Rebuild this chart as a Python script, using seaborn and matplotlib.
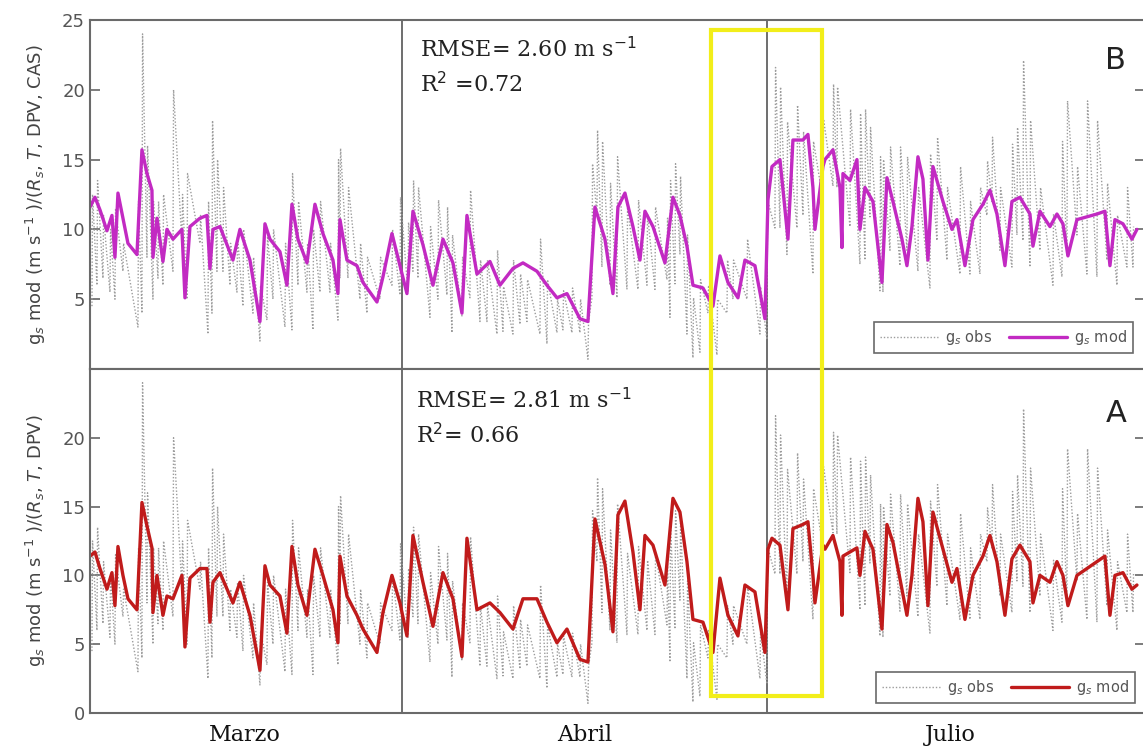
import matplotlib
matplotlib.use("Agg")
import matplotlib.pyplot as plt
import numpy as np
import pandas as pd
import seaborn as sns
from matplotlib.patches import Rectangle

# time axis in hours since start of the record
month_names = ["Marzo", "Abril", "Julio"]
month_centres = [310, 990, 1720]
month_breaks = [624, 1354]
t_end = 2110

# modelled gs (time, B = Rs,T,DPV,CAS ; A = Rs,T,DPV)
model_t = [0, 10, 20, 34, 44, 50, 56, 66, 76, 94, 104, 114, 124, 126, 134, 146, 154, 166, 184, 190,
           200, 220, 234, 240, 246, 260, 286, 300, 320, 340, 350, 360, 380, 394, 404, 416, 434, 450, 466, 486,
           496, 500, 514, 534, 546, 574, 586, 604, 620, 634, 646, 666, 686, 706, 726, 744, 754, 774, 800, 820,
           846, 866, 894, 914, 934, 954, 980, 996, 1010, 1030, 1046, 1056, 1070, 1086, 1100, 1110, 1126, 1150, 1166, 1180,
           1194, 1206, 1226, 1246, 1260, 1276, 1296, 1310, 1330, 1350, 1356, 1364, 1380, 1396, 1406, 1426, 1436, 1446, 1450, 1466,
           1470, 1486, 1500, 1504, 1506, 1520, 1534, 1540, 1550, 1566, 1584, 1594, 1606, 1624, 1634, 1644, 1656, 1666, 1676, 1686,
           1706, 1724, 1734, 1750, 1766, 1786, 1800, 1814, 1830, 1844, 1860, 1880, 1886, 1900, 1920, 1934, 1946, 1956, 1974, 1994,
           2014, 2030, 2040, 2050, 2066, 2084, 2094]
model_b = [11.6, 12.3, 11.4, 9.9, 11.0, 8.0, 12.6, 10.8, 9.0, 8.2, 15.7, 14.0, 12.8, 8.0, 10.8, 7.7, 10.0, 9.3, 10.0, 5.1,
           10.2, 10.8, 11.0, 7.2, 10.0, 10.2, 7.8, 10.0, 7.8, 3.4, 10.4, 9.3, 8.4, 6.0, 11.8, 9.3, 7.6, 11.8, 9.7, 7.8,
           5.4, 10.7, 7.8, 7.4, 6.2, 4.8, 6.6, 9.7, 7.4, 5.4, 11.3, 8.9, 6.0, 9.3, 7.6, 4.0, 11.0, 6.8, 7.7, 6.0,
           7.2, 7.6, 7.0, 6.0, 5.1, 5.4, 3.6, 3.4, 11.6, 9.3, 5.4, 11.6, 12.6, 10.2, 7.8, 11.3, 10.2, 7.6, 12.3, 11.0,
           8.8, 6.0, 5.8, 4.5, 8.1, 6.2, 5.1, 7.8, 7.4, 3.6, 12.1, 14.5, 15.0, 9.3, 16.4, 16.4, 16.8, 13.0, 10.0, 14.5,
           15.0, 15.7, 13.0, 8.7, 14.0, 13.5, 15.0, 10.0, 13.0, 12.0, 6.2, 13.7, 12.0, 9.3, 7.4, 10.2, 15.2, 13.6, 7.8, 14.5,
           12.0, 10.0, 10.7, 7.4, 10.7, 11.8, 12.8, 11.1, 7.4, 12.0, 12.3, 11.1, 8.8, 11.3, 10.2, 11.1, 10.4, 8.1, 10.7, 10.9,
           11.1, 11.3, 7.4, 10.7, 10.4, 9.3, 10.0]
model_a = [11.4, 11.7, 10.5, 9.0, 10.2, 7.8, 12.1, 10.0, 8.3, 7.5, 15.3, 13.6, 12.0, 7.3, 10.0, 7.1, 8.5, 8.3, 10.0, 4.8,
           9.8, 10.5, 10.5, 6.6, 9.5, 10.2, 8.0, 9.5, 7.1, 3.1, 10.7, 9.3, 8.5, 5.8, 12.1, 9.3, 7.1, 11.9, 10.0, 7.5,
           5.1, 11.4, 8.5, 7.1, 6.1, 4.4, 7.3, 10.0, 8.0, 5.6, 12.9, 9.5, 6.3, 10.2, 8.3, 4.1, 12.7, 7.5, 8.0, 7.3,
           6.1, 8.3, 8.3, 6.6, 5.1, 6.1, 3.9, 3.7, 14.1, 10.8, 5.9, 14.4, 15.4, 11.7, 7.5, 12.9, 12.2, 9.3, 15.6, 14.6,
           11.0, 6.8, 6.6, 4.4, 9.8, 7.1, 5.6, 9.3, 8.8, 4.4, 11.9, 12.7, 12.2, 7.5, 13.4, 13.7, 13.9, 10.0, 8.0, 12.2,
           11.9, 12.9, 11.0, 7.1, 11.4, 11.7, 12.0, 10.0, 13.2, 11.9, 6.1, 13.7, 12.4, 9.0, 7.1, 10.0, 15.6, 13.9, 7.8, 14.6,
           11.9, 9.5, 10.5, 6.8, 10.0, 11.4, 12.9, 11.0, 7.1, 11.2, 12.2, 11.0, 8.0, 10.0, 9.5, 11.0, 10.0, 7.8, 10.0, 10.5,
           11.0, 11.4, 7.1, 10.0, 10.2, 9.0, 9.3]

# observed gs: daily low / high of each burst
obs_t = [4, 14, 26, 40, 50, 66, 96, 104, 114, 126, 136, 146, 166, 184, 194, 220, 236, 244, 254, 266,
         280, 294, 306, 326, 340, 354, 366, 390, 404, 416, 434, 446, 460, 480, 496, 500, 516, 540, 554, 580,
         604, 620, 636, 646, 656, 680, 696, 714, 724, 744, 760, 780, 794, 814, 826, 846, 860, 874, 900, 914,
         934, 946, 964, 980, 996, 1004, 1014, 1024, 1040, 1054, 1074, 1096, 1114, 1130, 1154, 1160, 1170, 1180, 1194, 1206,
         1220, 1236, 1254, 1274, 1286, 1314, 1340, 1354, 1370, 1380, 1394, 1414, 1426, 1446, 1466, 1486, 1494, 1520, 1540, 1550,
         1560, 1580, 1586, 1600, 1620, 1634, 1656, 1680, 1694, 1714, 1740, 1760, 1780, 1794, 1804, 1820, 1844, 1854, 1866, 1880,
         1900, 1926, 1944, 1954, 1974, 1994, 2014, 2034, 2054, 2074, 2086]
obs_hi = [12.5, 13.5, 11.0, 10.0, 11.5, 9.0, 12.0, 24.0, 16.0, 12.0, 12.0, 12.5, 20.0, 12.5, 14.0, 11.0, 12.0, 17.8, 15.0, 13.0,
          9.0, 9.5, 10.0, 8.0, 6.0, 9.5, 10.0, 9.0, 14.0, 12.0, 9.0, 10.0, 12.0, 9.0, 15.0, 15.8, 13.0, 9.0, 8.0, 8.0,
          10.0, 12.3, 10.5, 13.5, 13.0, 10.2, 12.1, 11.6, 9.6, 8.0, 12.8, 7.8, 7.8, 8.5, 5.9, 7.8, 6.8, 6.4, 9.3, 6.4,
          5.0, 5.6, 5.8, 5.0, 3.4, 14.7, 17.1, 16.3, 13.3, 15.2, 11.6, 12.1, 11.1, 11.6, 10.8, 13.5, 14.7, 13.8, 9.6, 5.1,
          6.4, 6.0, 5.0, 7.8, 7.8, 9.3, 5.9, 12.1, 21.6, 20.2, 17.7, 18.9, 17.0, 16.3, 17.9, 20.4, 20.2, 18.6, 18.3, 18.6,
          17.3, 15.2, 15.0, 15.9, 15.9, 15.2, 13.0, 15.4, 16.6, 13.0, 14.5, 12.0, 13.0, 14.9, 16.6, 13.0, 16.1, 17.3, 22.1, 17.8,
          13.0, 11.1, 16.3, 19.2, 14.5, 19.2, 17.8, 13.3, 11.0, 13.0, 10.2]
obs_lo = [4.5, 6.0, 6.5, 5.5, 5.0, 7.0, 3.0, 4.0, 8.0, 5.0, 6.5, 6.0, 7.0, 9.0, 5.0, 9.0, 2.5, 4.0, 7.0, 7.0,
          6.0, 5.5, 4.5, 4.0, 2.0, 3.5, 5.0, 3.0, 2.8, 6.0, 5.5, 2.8, 5.5, 5.5, 3.5, 6.5, 6.5, 5.0, 4.0, 5.0,
          6.0, 5.3, 5.5, 7.0, 6.5, 3.7, 5.0, 5.3, 2.6, 3.8, 5.1, 3.4, 3.4, 2.5, 2.7, 2.5, 3.2, 3.4, 2.5, 1.8,
          2.6, 2.8, 2.6, 2.6, 0.7, 5.1, 11.0, 7.3, 6.0, 5.1, 5.7, 5.7, 6.0, 5.7, 6.4, 3.7, 6.1, 8.2, 2.5, 0.8,
          1.2, 4.0, 1.0, 4.0, 5.0, 5.0, 2.5, 2.1, 10.1, 10.1, 8.2, 10.1, 11.0, 6.8, 12.1, 13.1, 13.0, 10.2, 7.5, 7.8,
          10.9, 5.6, 5.5, 8.5, 7.4, 8.5, 7.0, 5.8, 9.2, 7.8, 6.8, 6.8, 6.8, 11.0, 12.0, 8.5, 7.3, 9.6, 9.2, 7.3,
          8.5, 6.0, 6.6, 8.1, 9.6, 6.8, 6.6, 7.8, 6.0, 7.3, 7.3]

# highlighted window (hours) and its value extent (top panel top, bottom panel bottom)
window_t = [1242, 1464]
window_v = [24.3, 1.2]

stats_b = ["RMSE= 2.60 m s$^{-1}$", "R$^2$ =0.72"]
stats_a = ["RMSE= 2.81 m s$^{-1}$", "R$^2$= 0.66"]

sns.set_style("white")
plt.rcParams["font.family"] = ["DejaVu Sans"]

# zig-zag observed series (low then high within each burst)
obs = pd.DataFrame({
    "t": np.ravel(np.column_stack([obs_t, np.array(obs_t) + 1.2])),
    "gs": np.ravel(np.column_stack([obs_lo, obs_hi])),
})
mod = pd.DataFrame({"t": model_t, "B": model_b, "A": model_a})

fig = plt.figure(figsize=(11.43, 7.48), dpi=100)
ax_b = fig.add_axes([0.0787, 0.5067, 0.923, 0.4666])
ax_a = fig.add_axes([0.0787, 0.0468, 0.923, 0.4599], sharex=ax_b)

grey_txt = "#555555"
panels = [(ax_b, "B", "#c22ac2", stats_b, r"g$_s$ mod (m s$^{-1}$ )/($R_s$, $T$, DPV, CAS)",
           [5, 10, 15, 20, 25], (0.313, 0.865), (0.972, 0.885), (0.9886, 0.046)),
          (ax_a, "A", "#c01b1b", stats_a, r"g$_s$ mod (m s$^{-1}$ )/($R_s$, $T$, DPV)",
           [0, 5, 10, 15, 20], (0.309, 0.857), (0.973, 0.872), (0.9905, 0.029))]

for ax, col, colour, stats, ylab, yt, stat_xy, tag_xy, leg_xy in panels:
    sns.lineplot(data=obs, x="t", y="gs", ax=ax, color="#9c9c9c", lw=1.0,
                 linestyle=(0, (1, 1.4)), estimator=None, label=r"g$_s$ obs")
    sns.lineplot(data=mod, x="t", y=col, ax=ax, color=colour, lw=2.4,
                 estimator=None, label=r"g$_s$ mod")
    for b in month_breaks:
        ax.axvline(b, color="#555555", lw=1.2, zorder=1)
    ax.set_ylim(0, 25)
    ax.set_xlim(0, t_end)
    ax.set_yticks(yt)
    ax.tick_params(axis="y", direction="in", length=7, width=1.2, colors="#666666",
                   labelcolor=grey_txt, labelsize=13, left=True, right=True)
    ax.set_ylabel(ylab, fontsize=13, color="#444444", labelpad=10)
    ax.set_xlabel("")
    for s in ax.spines.values():
        s.set_color("#6a6a6a")
        s.set_linewidth(1.5)
    ax.text(stat_xy[0], stat_xy[1], stats[0] + "\n" + stats[1], transform=ax.transAxes,
            family="DejaVu Serif", fontsize=16, color="#222222", va="center",
            linespacing=1.5)
    ax.text(tag_xy[0], tag_xy[1], col, transform=ax.transAxes, fontsize=22, color="#222222",
            ha="center", va="center")
    leg = ax.legend(loc="lower right", ncol=2, fontsize=10.5, frameon=True, fancybox=False,
                    handlelength=4.0, handletextpad=0.5, borderaxespad=0.0, columnspacing=1.1,
                    bbox_to_anchor=leg_xy)
    leg.get_frame().set_edgecolor("#444444")
    leg.get_frame().set_linewidth(1.2)
    for txt in leg.get_texts():
        txt.set_color(grey_txt)

ax_b.tick_params(axis="x", bottom=False, labelbottom=False)
ax_a.set_xticks(month_centres)
ax_a.set_xticklabels(month_names, family="DejaVu Serif", fontsize=16, color="#111111")
ax_a.tick_params(axis="x", length=0, pad=8)

# yellow window spanning both panels
fig.canvas.draw()
inv = fig.transFigure.inverted()
x0, y1 = inv.transform(ax_b.transData.transform((window_t[0], window_v[0])))
x1, y0 = inv.transform(ax_a.transData.transform((window_t[1], window_v[1])))
fig.add_artist(Rectangle((x0, y0), x1 - x0, y1 - y0, transform=fig.transFigure,
                         fill=False, edgecolor="#f2ee1a", lw=3, zorder=10))

fig.savefig("out.png", dpi=100)
